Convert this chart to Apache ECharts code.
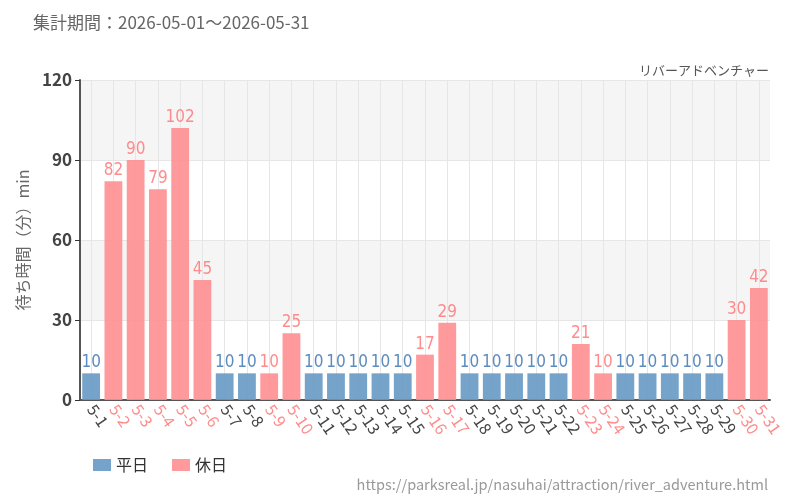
<!DOCTYPE html>
<html>
<head>
<meta charset="utf-8">
<script src="https://cdn.jsdelivr.net/npm/echarts@6/dist/echarts.min.js"></script>
<style>
  html, body { margin: 0; padding: 0; background: #fff; }
  #main { width: 800px; height: 500px; }
</style>
</head>
<body>
<div id="main"></div>
<script>
// 日付ラベル
const days = ['5-1','5-2','5-3','5-4','5-5','5-6','5-7','5-8','5-9','5-10','5-11','5-12','5-13','5-14','5-15','5-16',
  '5-17','5-18','5-19','5-20','5-21','5-22','5-23','5-24','5-25','5-26','5-27','5-28','5-29','5-30','5-31'];
// 平日 / 休日 の待ち時間（該当しない日は '-'）
const weekday = [10,'-','-','-','-','-',10,10,'-','-',10,10,10,10,10,'-','-',10,10,10,10,10,'-','-',10,10,10,10,10,'-','-'];
const holiday = ['-',82,90,79,102,45,'-','-',10,25,'-','-','-','-','-',17,29,'-','-','-','-','-',21,10,'-','-','-','-','-',30,42];
const yTicks = [0, 30, 60, 90, 120];

const blue = '#6699c4';
const pink = '#ff8f91';
const font = '"Noto Sans CJK JP", "Noto Sans", sans-serif';
const numFont = '"DejaVu Sans Condensed", "Liberation Sans Narrow", sans-serif';

const chart = echarts.init(document.getElementById('main'));
chart.setOption({
  animation: false,
  textStyle: { fontFamily: font },
  title: [
    { text: '集計期間：2026-05-01～2026-05-31', left: 28, top: 9,
      textStyle: { fontSize: 17, fontWeight: 'normal', color: '#666', fontFamily: font } },
    { text: 'リバーアドベンチャー', right: 26, top: 59,
      textStyle: { fontSize: 13, fontWeight: 'normal', color: '#555', fontFamily: font } }
  ],
  legend: {
    left: 88, bottom: 22, itemWidth: 18, itemHeight: 12, itemGap: 24,
    icon: 'rect',
    textStyle: { fontSize: 16, color: '#333', fontFamily: font },
    data: ['平日', '休日']
  },
  graphic: [{
    type: 'text', right: 32, bottom: 8,
    style: { text: 'https://parksreal.jp/nasuhai/attraction/river_adventure.html',
      fill: '#999', fontSize: 14.5, fontFamily: font }
  }],
  grid: { left: 80, right: 30, top: 80, bottom: 100 },
  xAxis: {
    type: 'category',
    data: days.map((d, i) => ({
      value: d,
      textStyle: { color: holiday[i] === '-' ? '#444' : '#ff8a8a' }
    })),
    axisLine: { lineStyle: { color: '#555', width: 2 } },
    axisTick: { alignWithLabel: true, length: 5, lineStyle: { color: '#333' } },
    axisLabel: { rotate: -55, fontSize: 16, interval: 0, margin: 6, fontFamily: font },
    splitLine: { show: true, alignWithLabel: true, lineStyle: { color: '#e6e6e6' } }
  },
  yAxis: {
    type: 'value', min: yTicks[0], max: yTicks[yTicks.length - 1], interval: 30,
    name: '待ち時間（分）min', nameLocation: 'middle', nameGap: 48,
    nameTextStyle: { fontSize: 16, color: '#666', fontFamily: font },
    axisLine: { show: true, lineStyle: { color: '#555', width: 2 } },
    axisTick: { show: true, length: 5, lineStyle: { color: '#333' } },
    axisLabel: { fontSize: 17, color: '#444', fontWeight: 'bold', margin: 8, fontFamily: font },
    splitLine: { show: true, lineStyle: { color: '#e6e6e6' } },
    splitArea: { show: true, areaStyle: { color: ['rgba(255,255,255,0)', '#f5f5f5'] } }
  },
  series: [
    {
      name: '平日', type: 'bar', stack: 'w', data: weekday, barCategoryGap: '20%',
      itemStyle: { color: blue, opacity: 0.9 },
      label: { show: true, position: 'top', distance: 2, color: '#4a80b8', fontSize: 17, fontFamily: numFont }
    },
    {
      name: '休日', type: 'bar', stack: 'w', data: holiday, barCategoryGap: '20%',
      itemStyle: { color: pink, opacity: 0.9 },
      label: { show: true, position: 'top', distance: 2, color: '#ff7f80', fontSize: 17, fontFamily: numFont }
    }
  ]
});
</script>
</body>
</html>
